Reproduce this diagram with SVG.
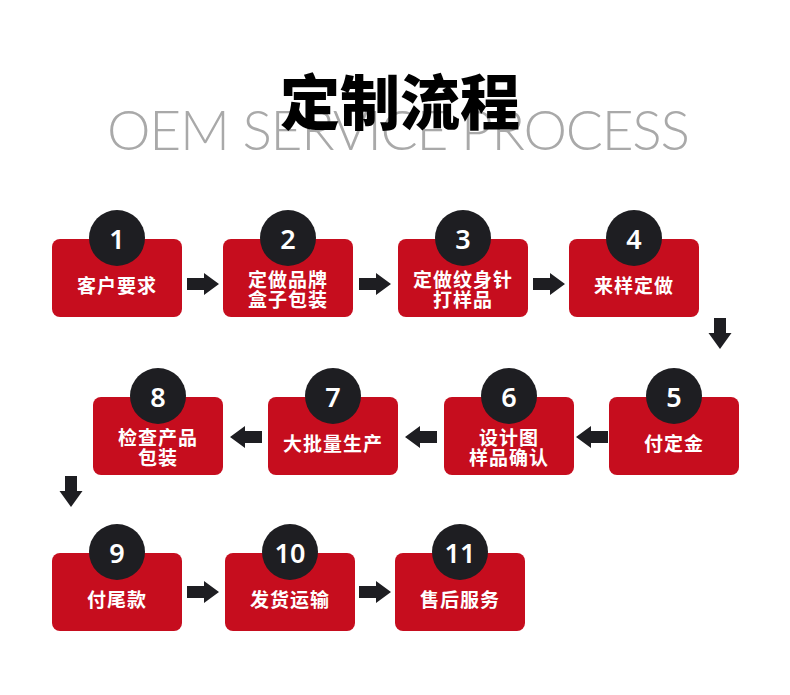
<svg xmlns="http://www.w3.org/2000/svg" width="790" height="695" viewBox="0 0 790 695">
<style>
.box{fill:#c60d1e}
.num{fill:#1e1e22}
.nt{fill:#fff;font-family:"Noto Sans","Noto Sans CJK SC",sans-serif;font-size:27px;font-weight:600;text-anchor:middle}
.lb{fill:#fff;font-family:"Noto Sans CJK SC",sans-serif;font-size:19px;font-weight:700;text-anchor:middle;letter-spacing:1px}
.arr{fill:#1e1e22}
</style>
<defs>
<polygon id="ar" points="0,-6 17,-6 17,-11 32,0 17,11 17,6 0,6"/>
<polygon id="al" points="32,-6 15,-6 15,-11 0,0 15,11 15,6 32,6"/>
<polygon id="ad" points="-6,0 6,0 6,15 11.5,15 0,31 -11.5,15 -6,15"/>
</defs>
<rect width="790" height="695" fill="#fff"/>
<g id="header">
<text x="107" y="150" font-family="Lato,'Open Sans',sans-serif" font-weight="300" font-size="55" fill="#a9a9a9" textLength="583" lengthAdjust="spacing">OEM SERVICE PROCESS</text>
<text x="400" y="125" font-family="'Noto Sans CJK SC',sans-serif" font-weight="900" font-size="60" fill="#000" text-anchor="middle">定制流程</text>
</g>
<g id="connectors" class="arr">
<use href="#ar" x="187" y="284"/>
<use href="#ar" x="359" y="284"/>
<use href="#ar" x="533" y="284"/>
<use href="#ad" x="720" y="318"/>
<use href="#al" x="576" y="437"/>
<use href="#al" x="405" y="437"/>
<use href="#al" x="230" y="437"/>
<use href="#ad" x="71" y="476"/>
<use href="#ar" x="187" y="592"/>
<use href="#ar" x="359" y="592"/>
</g>
<g id="step1"><rect class="box" x="52" y="239" width="130" height="78" rx="8"/><circle class="num" cx="117" cy="238" r="28"/><text class="nt" x="117" y="249">1</text><text class="lb" x="117" y="293">客户要求</text></g>
<g id="step2"><rect class="box" x="223" y="239" width="130" height="78" rx="8"/><circle class="num" cx="288" cy="238" r="28"/><text class="nt" x="288" y="249">2</text><text class="lb" x="288" y="287">定做品牌</text><text class="lb" x="288" y="307">盒子包装</text></g>
<g id="step3"><rect class="box" x="398" y="239" width="130" height="78" rx="8"/><circle class="num" cx="463" cy="238" r="28"/><text class="nt" x="463" y="249">3</text><text class="lb" x="463" y="287">定做纹身针</text><text class="lb" x="463" y="307">打样品</text></g>
<g id="step4"><rect class="box" x="569" y="239" width="130" height="78" rx="8"/><circle class="num" cx="634" cy="238" r="28"/><text class="nt" x="634" y="249">4</text><text class="lb" x="634" y="293">来样定做</text></g>
<g id="step5"><rect class="box" x="609" y="397" width="130" height="78" rx="8"/><circle class="num" cx="674" cy="396" r="28"/><text class="nt" x="674" y="407">5</text><text class="lb" x="674" y="451">付定金</text></g>
<g id="step6"><rect class="box" x="444" y="397" width="130" height="78" rx="8"/><circle class="num" cx="509" cy="396" r="28"/><text class="nt" x="509" y="407">6</text><text class="lb" x="509" y="445">设计图</text><text class="lb" x="509" y="465">样品确认</text></g>
<g id="step7"><rect class="box" x="268" y="397" width="130" height="78" rx="8"/><circle class="num" cx="333" cy="396" r="28"/><text class="nt" x="333" y="407">7</text><text class="lb" x="333" y="451">大批量生产</text></g>
<g id="step8"><rect class="box" x="93" y="397" width="130" height="78" rx="8"/><circle class="num" cx="158" cy="396" r="28"/><text class="nt" x="158" y="407">8</text><text class="lb" x="158" y="445">检查产品</text><text class="lb" x="158" y="465">包装</text></g>
<g id="step9"><rect class="box" x="52" y="553" width="130" height="78" rx="8"/><circle class="num" cx="117" cy="552" r="28"/><text class="nt" x="117" y="563">9</text><text class="lb" x="117" y="607">付尾款</text></g>
<g id="step10"><rect class="box" x="225" y="553" width="130" height="78" rx="8"/><circle class="num" cx="290" cy="552" r="28"/><text class="nt" x="290" y="563">10</text><text class="lb" x="290" y="607">发货运输</text></g>
<g id="step11"><rect class="box" x="395" y="553" width="130" height="78" rx="8"/><circle class="num" cx="460" cy="552" r="28"/><text class="nt" x="460" y="563">11</text><text class="lb" x="460" y="607">售后服务</text></g>
</svg>
